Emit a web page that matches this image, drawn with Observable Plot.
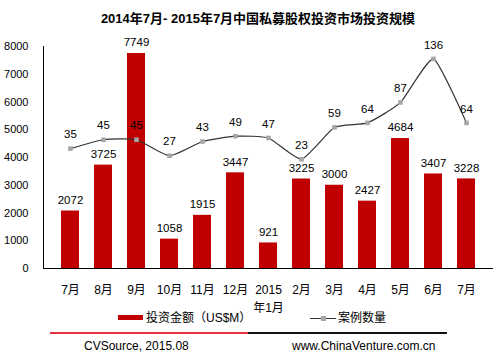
<!DOCTYPE html>
<html><head><meta charset="utf-8">
<script src="https://cdn.jsdelivr.net/npm/d3@7"></script>
<script src="https://cdn.jsdelivr.net/npm/@observablehq/plot@0.6"></script>
<style>
body{margin:0;background:#fff;font-family:"Liberation Sans","Noto Sans CJK SC",sans-serif;color:#000}
#wrap{position:relative;width:502px;height:354px;overflow:hidden;background:#fff}
#title{height:30px;line-height:16px;padding-top:11px;box-sizing:border-box;text-align:center;font-weight:bold;font-size:13px;padding-left:14px;white-space:nowrap}
#chart svg{display:block}
.abs{position:absolute;white-space:nowrap}
</style></head>
<body>
<div id="wrap">
  <div id="title">2014年7月- 2015年7月中国私募股权投资市场投资规模</div>
  <div id="chart"></div>
  <div class="abs" style="left:118px;top:315px;width:25px;height:5px;background:#c00000"></div>
  <div class="abs" style="left:146px;top:310px;font-size:12px;line-height:16px">投资金额（US$M）</div>
  <div class="abs" style="left:310px;top:318px;width:26px;height:1px;background:#333"></div>
  <div class="abs" style="left:321px;top:316px;width:5px;height:5px;background:#a6a6a6"></div>
  <div class="abs" style="left:338px;top:310px;font-size:12px;line-height:16px">案例数量</div>
  <div class="abs" style="left:50px;top:332px;width:198px;height:2px;background:#e8303c"></div>
  <div class="abs" style="left:248px;top:332px;width:199px;height:2px;background:#111"></div>
  <div class="abs" style="left:84px;top:338px;font-size:12px;line-height:16px">CVSource, 2015.08</div>
  <div class="abs" style="left:292px;top:338px;font-size:12px;line-height:16px">www.ChinaVenture.com.cn</div>
</div>
<script>
const labels = ["7月","8月","9月","10月","11月","12月","2015\n年1月","2月","3月","4月","5月","6月","7月"];
const amounts = [2072,3725,7749,1058,1915,3447,921,3225,3000,2427,4684,3407,3228];
const counts = [35,45,45,27,43,49,47,23,59,64,87,136,64];
const yTicks = [0,1000,2000,3000,4000,5000,6000,7000,8000];

const idx = labels.map((d, i) => i);
const bars = idx.map(i => ({i, amount: amounts[i]}));
const pts = idx.map(i => ({i, count: counts[i]}));
// secondary (hidden) axis -100..150 mapped onto primary 0..8000
const y2 = v => (v + 100) * 8000 / 250;

const chart = Plot.plot({
  width: 502, height: 280,
  marginTop: 16, marginBottom: 42, marginLeft: 43, marginRight: 9,
  style: {fontFamily: '"Liberation Sans","Noto Sans CJK SC",sans-serif', fontSize: "11px", color: "#000", background: "#fff", overflow: "visible"},
  x: {type: "band", domain: idx, padding: 0.45},
  y: {domain: [0, 8000]},
  marks: [
    Plot.barY(bars, {x: "i", y: "amount", fill: "#c00000"}),
    Plot.axisY({ticks: yTicks, tickSize: 0, tickPadding: 15, fontSize: 11, tickFormat: d => String(d), label: null}),
    Plot.axisX({tickSize: 0, tickPadding: 13, fontSize: 12, lineHeight: 1.5, tickFormat: i => labels[i], label: null}),
    Plot.ruleY([0], {stroke: "#000"}),
    Plot.frame({anchor: "left", stroke: "#000"}),
    Plot.text(bars, {x: "i", y: "amount", text: d => String(d.amount), dy: -11, fontSize: 11.5, fill: "#000"}),
    Plot.line(pts, {x: "i", y: d => y2(d.count), stroke: "#333", strokeWidth: 1.2, curve: "cardinal", tension: 0.5}),
    Plot.dot(pts, {x: "i", y: d => y2(d.count), symbol: "square", r: 2.6, fill: "#a6a6a6", stroke: "none"}),
    Plot.text(pts, {x: "i", y: d => y2(d.count), text: d => String(d.count), dy: -14, fontSize: 11.5, fill: "#000"})
  ]
});
document.getElementById("chart").appendChild(chart);
</script>
</body></html>
